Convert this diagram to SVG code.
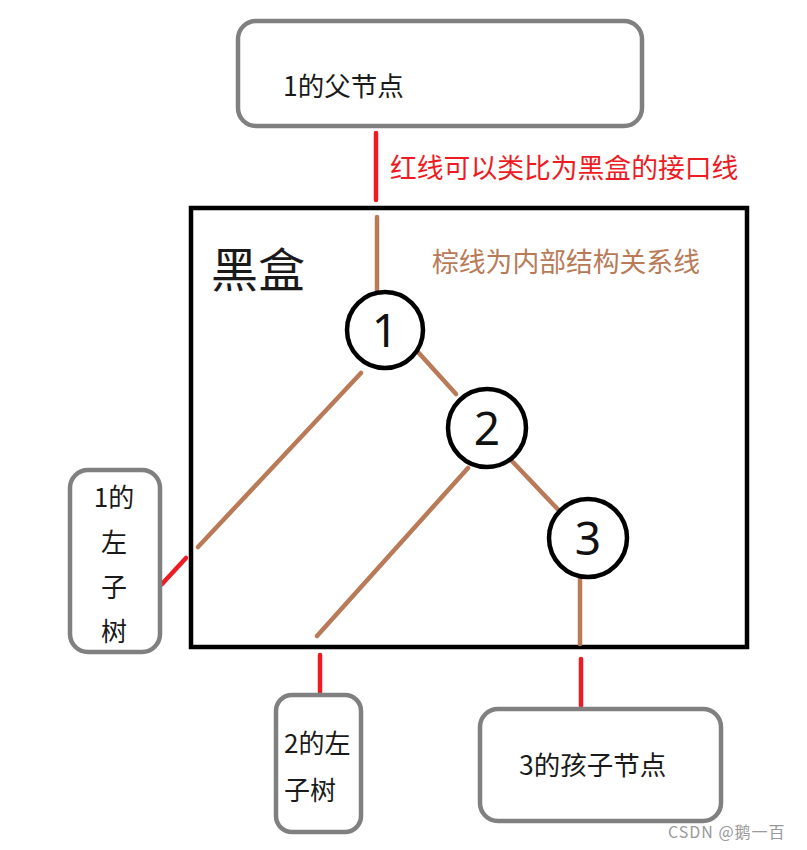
<svg xmlns="http://www.w3.org/2000/svg" width="807" height="850" viewBox="0 0 807 850">
<style>
.box{fill:#fff;stroke:#808080;stroke-width:4.5}
.t{font-family:"Noto Sans CJK SC","Noto Sans",sans-serif;fill:#1a1a1a}
.circ{fill:#fff;stroke:#000;stroke-width:4.5}
.num{font-family:"Noto Sans","Liberation Sans",sans-serif;font-size:46px;fill:#111;text-anchor:middle}
.brown{stroke:#B97A57;stroke-width:4.5;stroke-linecap:round;fill:none}
.red{stroke:#ED1C24;stroke-width:4.5;stroke-linecap:round;fill:none}
</style>
<rect width="807" height="850" fill="#fff"/>
<g id="blackbox">
<rect x="191" y="208" width="556" height="439" fill="#fff" stroke="#000" stroke-width="4.5"/>
<text class="t" x="211" y="287" font-size="47">黑盒</text>
<text class="t" x="432" y="272" font-size="26.8" style="fill:#B97A57">棕线为内部结构关系线</text>
</g>
<g id="connectors">
<line class="red" x1="376" y1="133" x2="376" y2="200"/>
<line class="red" x1="186" y1="558" x2="162" y2="584"/>
<line class="red" x1="320" y1="655" x2="320" y2="692"/>
<line class="red" x1="581" y1="659" x2="581" y2="706"/>
<line class="brown" x1="377" y1="217" x2="377" y2="290"/>
<line class="brown" x1="418" y1="352" x2="456" y2="394"/>
<line class="brown" x1="510" y1="459" x2="567" y2="519"/>
<line class="brown" x1="361" y1="373" x2="198" y2="547"/>
<line class="brown" x1="468" y1="468" x2="317" y2="636"/>
<line class="brown" x1="580" y1="575" x2="580" y2="644"/>
</g>
<g id="parent1">
<rect class="box" x="238" y="21" width="404" height="105" rx="18"/>
<text class="t" x="283" y="96" font-size="26.5">1的父节点</text>
</g>
<text class="t" x="390" y="178" font-size="26.8" style="fill:#ED1C24">红线可以类比为黑盒的接口线</text>
<g id="n1">
<circle class="circ" cx="385" cy="330" r="38"/>
<text class="num" x="385" y="347">1</text>
</g>
<g id="n2">
<circle class="circ" cx="487" cy="428" r="39"/>
<text class="num" x="487" y="445">2</text>
</g>
<g id="n3">
<circle class="circ" cx="588" cy="538" r="39"/>
<text class="num" x="588" y="555">3</text>
</g>
<g id="left1">
<rect class="box" x="70" y="470" width="90" height="182" rx="18"/>
<text class="t" font-size="26" text-anchor="middle"><tspan x="114" y="507">1的</tspan><tspan x="114" y="552">左</tspan><tspan x="114" y="597">子</tspan><tspan x="114" y="641">树</tspan></text>
</g>
<g id="left2">
<rect class="box" x="276" y="695" width="85" height="137" rx="16"/>
<text class="t" font-size="26"><tspan x="284" y="753">2的左</tspan><tspan x="284" y="800">子树</tspan></text>
</g>
<g id="child3">
<rect class="box" x="480" y="709" width="241" height="112" rx="18"/>
<text class="t" x="519" y="775" font-size="26.5">3的孩子节点</text>
</g>
<text x="668" y="838" font-family="Noto Sans CJK SC, sans-serif" font-size="16" letter-spacing="1" fill="#999">CSDN @鹅一百</text>
</svg>
